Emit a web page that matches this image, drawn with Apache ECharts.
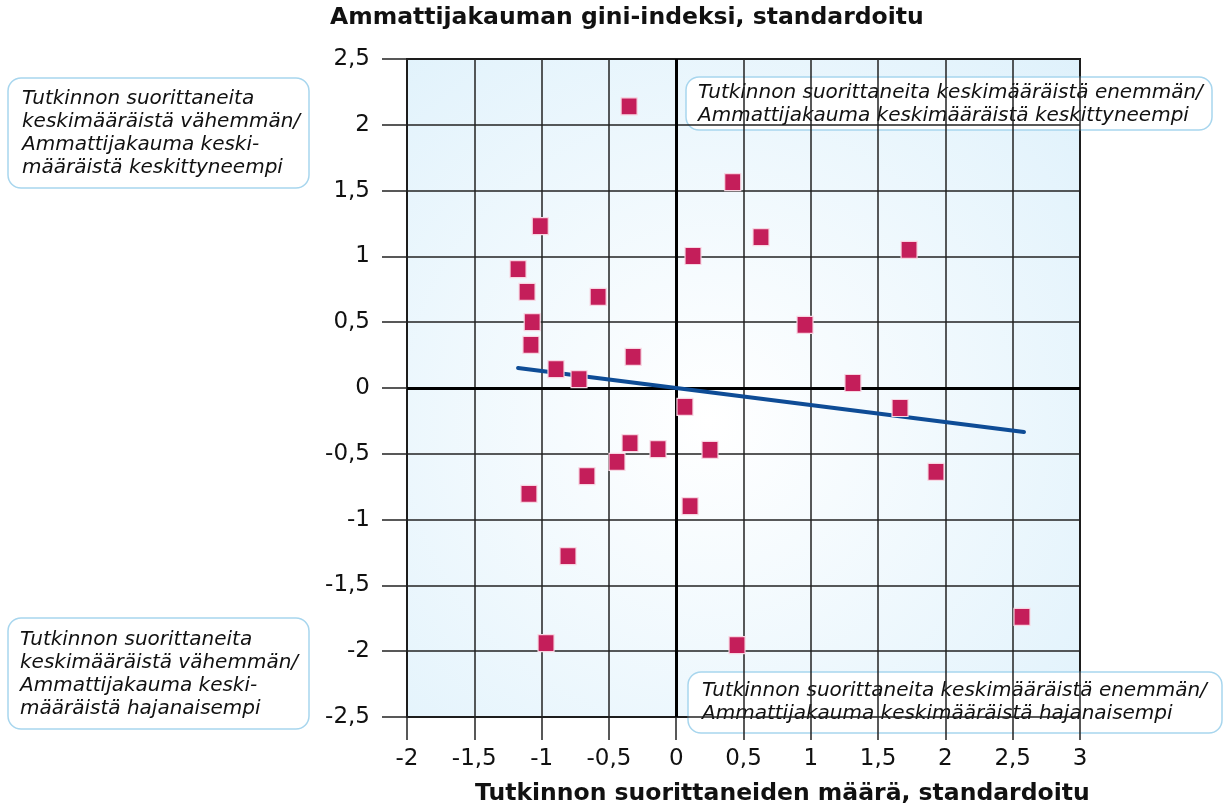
<!DOCTYPE html>
<html>
<head>
<meta charset="utf-8">
<script src="https://cdn.jsdelivr.net/npm/echarts@6/dist/echarts.min.js"></script>
<style>
  html, body { margin: 0; padding: 0; background: #ffffff; }
  #chart { width: 1227px; height: 809px; }
</style>
</head>
<body>
<div id="chart"></div>
<script>
// Standardised number of graduates (x) and occupational Gini index (y) per field
const xValues = [-0.35, 0.42, -1.01, 0.63, 1.73, 0.125, -1.175, -1.108, -0.58, -1.07,
                 0.957, -1.079, -0.32, -0.893, -0.722, 1.313, 0.065, 1.663, -0.343, -0.135,
                 0.251, -0.44, 1.93, -0.663, -1.094, 0.103, -0.804, 2.569, -0.967, 0.452];
const yValues = [2.14, 1.565, 1.23, 1.147, 1.049, 1.003, 0.904, 0.73, 0.692, 0.5,
                 0.479, 0.327, 0.236, 0.144, 0.068, 0.038, -0.144, -0.152, -0.418, -0.464,
                 -0.471, -0.562, -0.638, -0.669, -0.805, -0.897, -1.277, -1.74, -1.938, -1.953];

// Linear trend endpoints
const trendX = [-1.175, 2.584];
const trendY = [0.152, -0.334];

const yTitle = 'Ammattijakauman gini-indeksi, standardoitu';
const xTitle = 'Tutkinnon suorittaneiden määrä, standardoitu';

const quadrantNotes = {
  topLeft: 'Tutkinnon suorittaneita\nkeskimääräistä vähemmän/\nAmmattijakauma keski-\nmääräistä keskittyneempi',
  topRight: 'Tutkinnon suorittaneita keskimääräistä enemmän/\nAmmattijakauma keskimääräistä keskittyneempi',
  bottomLeft: 'Tutkinnon suorittaneita\nkeskimääräistä vähemmän/\nAmmattijakauma keski-\nmääräistä hajanaisempi',
  bottomRight: 'Tutkinnon suorittaneita keskimääräistä enemmän/\nAmmattijakauma keskimääräistä hajanaisempi'
};

const FONT = '"DejaVu Sans", Verdana, sans-serif';
const fmt = v => String(v).replace('.', ',');

const points = xValues.map((x, i) => [x, yValues[i]]);
const trend = trendX.map((x, i) => [x, trendY[i]]);

function noteBox(text, x, y, w, h, padX, padY) {
  return {
    type: 'group',
    z: 100,
    children: [
      {
        type: 'rect',
        shape: { x: x, y: y, width: w, height: h, r: 13 },
        style: { fill: '#ffffff', stroke: '#a8d6ee', lineWidth: 1.5 }
      },
      {
        type: 'text',
        x: x + padX,
        y: y + padY,
        style: {
          text: text,
          font: 'italic 20px ' + FONT,
          fill: '#111111',
          lineHeight: 23
        }
      }
    ]
  };
}

const chart = echarts.init(document.getElementById('chart'), null, { renderer: 'canvas' });

chart.setOption({
  animation: false,
  backgroundColor: '#ffffff',
  grid: {
    left: 407, right: 147, top: 59, bottom: 92,
    show: true,
    borderColor: '#111111',
    borderWidth: 2,
    backgroundColor: {
      type: 'radial', x: 0.45, y: 0.55, r: 0.85,
      colorStops: [
        { offset: 0, color: '#ffffff' },
        { offset: 1, color: '#dcf0fb' }
      ]
    }
  },
  xAxis: {
    type: 'value',
    min: -2, max: 3, interval: 0.5,
    axisLine: { show: false, onZero: false },
    axisTick: { show: true, length: 23, lineStyle: { color: '#222', width: 1.5 } },
    axisLabel: { margin: 31, fontSize: 23, color: '#111', fontFamily: FONT, formatter: fmt },
    splitLine: { show: true, lineStyle: { color: '#222222', width: 1.5 } }
  },
  yAxis: {
    type: 'value',
    min: -2.5, max: 2.5, interval: 0.5,
    axisLine: { show: false, onZero: false },
    axisTick: { show: true, length: 25, lineStyle: { color: '#222', width: 1.5 } },
    axisLabel: { margin: 37, fontSize: 23, color: '#111', fontFamily: FONT, formatter: fmt },
    splitLine: { show: true, lineStyle: { color: '#222222', width: 1.5 } }
  },
  series: [
    {
      type: 'line',
      data: trend,
      symbol: 'none',
      z: 3,
      lineStyle: { color: '#0e4c96', width: 4, cap: 'round' },
      markLine: {
        silent: true,
        symbol: 'none',
        label: { show: false },
        lineStyle: { color: '#000000', width: 3, type: 'solid' },
        data: [{ xAxis: 0 }, { yAxis: 0 }],
        z: 2
      }
    },
    {
      type: 'scatter',
      data: points,
      symbol: 'rect',
      symbolSize: [16, 17],
      z: 5,
      itemStyle: { color: '#c41e5a', borderColor: '#f7d6e2', borderWidth: 1.2, opacity: 1 }
    }
  ],
  graphic: [
    {
      type: 'text', left: 330, top: 6, z: 100,
      style: { text: yTitle, font: 'bold 23.5px ' + FONT, fill: '#111' }
    },
    {
      type: 'text', left: 475, top: 782, z: 100,
      style: { text: xTitle, font: 'bold 23.5px ' + FONT, fill: '#111' }
    },
    noteBox(quadrantNotes.topLeft, 8, 78, 301, 110, 14, 9),
    noteBox(quadrantNotes.topRight, 686, 77, 526, 53, 12, 4),
    noteBox(quadrantNotes.bottomLeft, 8, 618, 301, 111, 12, 10),
    noteBox(quadrantNotes.bottomRight, 688, 672, 534, 61, 14, 7)
  ]
});
</script>
</body>
</html>
